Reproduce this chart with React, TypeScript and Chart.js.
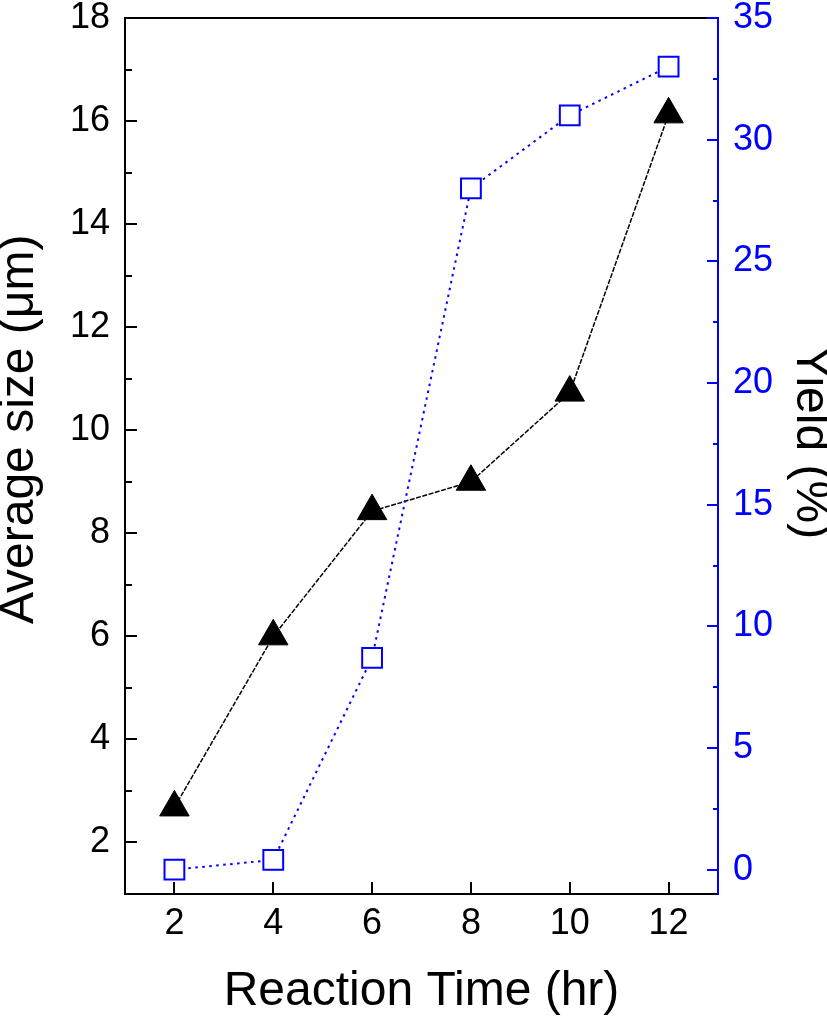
import React, { useEffect, useRef } from "react";
import { Chart, registerables } from "chart.js";

Chart.register(...registerables);

const reactionTime = [2, 4, 6, 8, 10, 12];
const averageSize = [2.68, 6.0, 8.43, 9.0, 10.73, 16.13];
const yieldPct = [0, 0.4, 8.7, 28.0, 31.0, 33.0];

const xTicks = [2, 4, 6, 8, 10, 12];
const sizeTicks = [2, 4, 6, 8, 10, 12, 14, 16, 18];
const sizeMinorTicks = [3, 5, 7, 9, 11, 13, 15, 17];
const yieldTicks = [0, 5, 10, 15, 20, 25, 30, 35];
const yieldMinorTicks = [2.5, 7.5, 12.5, 17.5, 22.5, 27.5, 32.5];

const FONT = "'Liberation Sans', Arial, Helvetica, sans-serif";
const BLUE = "#0000ff";

const innerTicks = {
  id: "innerTicks",
  afterDraw(chart: any) {
    const { ctx, chartArea, scales } = chart;
    ctx.save();
    ctx.lineWidth = 2;
    const vTicks = (id: string, values: number[], len: number, color: string, left: boolean) => {
      const s = scales[id];
      const x0 = left ? chartArea.left : chartArea.right;
      ctx.strokeStyle = color;
      values.forEach((v) => {
        const y = Math.round(s.getPixelForValue(v));
        ctx.beginPath();
        ctx.moveTo(x0, y);
        ctx.lineTo(left ? x0 + len : x0 - len, y);
        ctx.stroke();
      });
    };
    vTicks("y", sizeTicks, 12, "#000", true);
    vTicks("y", sizeMinorTicks, 7, "#000", true);
    vTicks("y1", yieldTicks, 11, BLUE, false);
    vTicks("y1", yieldMinorTicks, 5, BLUE, false);
    const sx = scales.x;
    ctx.strokeStyle = "#000";
    xTicks.forEach((v) => {
      const x = Math.round(sx.getPixelForValue(v));
      ctx.beginPath();
      ctx.moveTo(x, chartArea.bottom);
      ctx.lineTo(x, chartArea.bottom - 12);
      ctx.stroke();
    });
    ctx.restore();
  },
};

const noPad = (s: any) => {
  s.paddingTop = 0;
  s.paddingBottom = 0;
  s.paddingLeft = 0;
  s.paddingRight = 0;
};

export default function App() {
  const ref = useRef<HTMLCanvasElement>(null);
  useEffect(() => {
    if (!ref.current) return;
    const chart = new Chart(ref.current, {
      type: "line",
      data: {
        datasets: [
          {
            label: "Yield (%)",
            data: reactionTime.map((t, i) => ({ x: t, y: yieldPct[i] })),
            xAxisID: "x",
            yAxisID: "y1",
            borderColor: BLUE,
            borderWidth: 2,
            borderDash: [2.5, 4.5],
            pointStyle: "rect",
            pointRadius: 14,
            pointBackgroundColor: "#ffffff",
            pointBorderColor: BLUE,
            pointBorderWidth: 2,
            tension: 0,
            fill: false,
          },
          {
            label: "Average size (μm)",
            data: reactionTime.map((t, i) => ({ x: t, y: averageSize[i] })),
            xAxisID: "x",
            yAxisID: "y",
            borderColor: "#000",
            borderWidth: 1.5,
            borderDash: [5, 1.5],
            pointStyle: "triangle",
            pointRadius: 17,
            pointBackgroundColor: "#000",
            pointBorderColor: "#000",
            pointBorderWidth: 1,
            tension: 0,
            fill: false,
          },
        ],
      },
      options: {
        animation: false,
        responsive: false,
        layout: { padding: 0 },
        plugins: { legend: { display: false }, tooltip: { enabled: false } },
        scales: {
          x: {
            type: "linear",
            position: "bottom",
            min: 1,
            max: 13,
            afterBuildTicks: (s: any) => {
              s.ticks = xTicks.map((v) => ({ value: v }));
            },
            afterFit: (s: any) => {
              s.height = 125;
              noPad(s);
            },
            grid: { display: false, drawTicks: false },
            border: { display: true, color: "#000", width: 2 },
            ticks: {
              padding: 12,
              color: "#000",
              maxRotation: 0,
              font: { family: FONT, size: 36, lineHeight: 1 },
            },
            title: {
              display: true,
              text: "Reaction Time (hr)",
              color: "#000",
              font: { family: FONT, size: 48, lineHeight: 1 },
              padding: { top: 0, bottom: 3 },
            },
          },
          x2: {
            type: "linear",
            position: "top",
            min: 1,
            max: 13,
            afterBuildTicks: (s: any) => {
              s.ticks = [];
            },
            afterFit: (s: any) => {
              s.height = 15;
              noPad(s);
            },
            grid: { display: false, drawTicks: false },
            border: { display: true, color: "#000", width: 2 },
            ticks: { display: false },
          },
          y: {
            type: "linear",
            position: "left",
            min: 1,
            max: 18,
            afterBuildTicks: (s: any) => {
              s.ticks = sizeTicks.map((v) => ({ value: v }));
            },
            afterFit: (s: any) => {
              s.width = 125;
              noPad(s);
            },
            grid: { display: false, drawTicks: false },
            border: { display: true, color: "#000", width: 2 },
            ticks: {
              padding: 15,
              color: "#000",
              font: { family: FONT, size: 36, lineHeight: 1 },
            },
            title: {
              display: true,
              text: "    Average size (μm)",
              color: "#000",
              font: { family: FONT, size: 48, lineHeight: 1 },
              padding: { top: -4, bottom: 0 },
            },
          },
          y1: {
            type: "linear",
            position: "right",
            min: -1,
            max: 35,
            afterBuildTicks: (s: any) => {
              s.ticks = yieldTicks.map((v) => ({ value: v }));
            },
            afterFit: (s: any) => {
              s.width = 109;
              noPad(s);
            },
            grid: { display: false, drawTicks: false },
            border: { display: true, color: BLUE, width: 2 },
            ticks: {
              padding: 15,
              color: BLUE,
              font: { family: FONT, size: 36, lineHeight: 1 },
            },
            title: {
              display: true,
              text: "Yield (%)  ",
              color: "#000",
              font: { family: FONT, size: 48, lineHeight: 1 },
              padding: { top: -7, bottom: 0 },
            },
          },
        },
      },
      plugins: [innerTicks],
    } as any);
    return () => chart.destroy();
  }, []);
  return (
    <div style={{ position: "absolute", left: 0, top: 0, width: 827, height: 1019, background: "#fff" }}>
      <canvas ref={ref} width={827} height={1019} />
    </div>
  );
}
